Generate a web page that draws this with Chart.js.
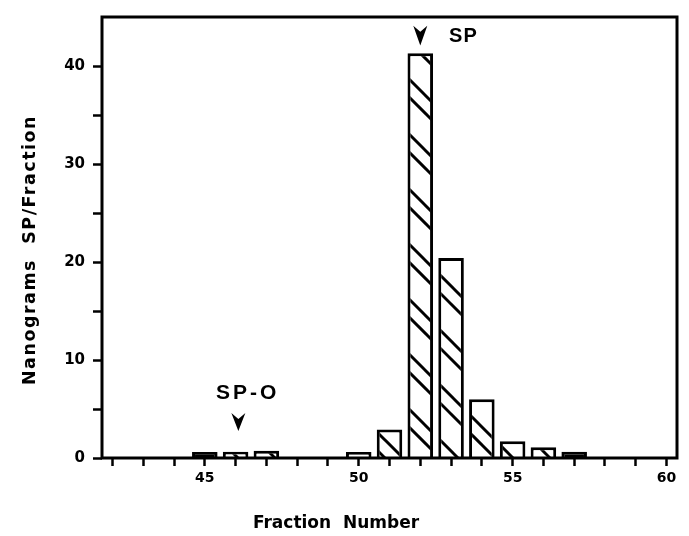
<!DOCTYPE html>
<html>
<head>
<meta charset="utf-8">
<script src="https://cdn.jsdelivr.net/npm/chart.js@4/dist/chart.umd.min.js"></script>
<style>
  html, body { margin: 0; padding: 0; background: #fff; }
  #wrap { width: 689px; height: 536px; position: relative; }
</style>
</head>
<body>
<div id="wrap"><canvas id="c" width="689" height="536"></canvas></div>
<script>
// ---- data ----
const fractions = [45, 46, 47, 50, 51, 52, 53, 54, 55, 56, 57];
const nanograms = [0.6, 0.65, 0.75, 0.6, 2.9, 41.3, 20.4, 6.0, 1.7, 1.1, 0.65];
const solidFractions = [45, 57];
const xLabelValues = [45, 50, 55, 60];
const yLabelValues = [0, 10, 20, 30, 40];
const xTitle = 'Fraction  Number';
const yTitle = 'Nanograms  SP/Fraction';
const annotations = [
  { label: 'SP',   textX: 53.4,  textY: 43.0, arrowX: 52,    arrowTop: 44.1, arrowTip: 42.1 },
  { label: 'SP-O', textX: 46.39, textY: 6.6,  arrowX: 46.09, arrowTop: 4.58, arrowTip: 2.76 }
];

// ---- hatch pattern ----
function makeHatch() {
  const s = 55;
  const t = document.createElement('canvas');
  t.width = s; t.height = s;
  const g = t.getContext('2d');
  g.fillStyle = '#fff';
  g.fillRect(0, 0, s, s);
  g.strokeStyle = '#000';
  g.lineWidth = 3;
  for (const c of [0, 18]) {
    for (const k of [-s, 0, s]) {
      g.beginPath();
      g.moveTo(-2, c + k - 2);
      g.lineTo(s + 2, s + c + k + 2);
      g.stroke();
    }
  }
  return g.createPattern(t, 'repeat');
}
const cvs = document.getElementById('c');
const hatch = makeHatch();

const FONT = "'DejaVu Sans', sans-serif";
const FONT2 = "'Liberation Sans', Arial, sans-serif";

const decor = {
  id: 'decor',
  afterDatasetsDraw(chart) {
    const { ctx, chartArea: a } = chart;
    ctx.save();
    ctx.strokeStyle = '#000';
    ctx.lineWidth = 3;
    ctx.strokeRect(a.left, a.top, a.right - a.left, a.bottom - a.top);
    ctx.restore();
  },
  afterDraw(chart) {
    const { ctx } = chart;
    const xs = chart.scales.x, ys = chart.scales.y;
    ctx.save();
    ctx.fillStyle = '#000';
    ctx.textAlign = 'center';
    ctx.textBaseline = 'middle';
    // axis titles
    ctx.font = 'bold 17px ' + FONT;
    try { ctx.letterSpacing = '0px'; } catch (e) {}
    ctx.fillText(xTitle, 336, 524);
    ctx.save();
    ctx.translate(30, 250);
    ctx.rotate(-Math.PI / 2);
    try { ctx.letterSpacing = '1.5px'; } catch (e) {}
    ctx.font = 'bold 17.5px ' + FONT;
    ctx.fillText(yTitle, 0, 0);
    ctx.restore();
    // annotations
    annotations.forEach((an, i) => {
      if (i === 0) {
        ctx.font = 'bold 20px ' + FONT2;
        try { ctx.letterSpacing = '1px'; } catch (e) {}
      } else {
        ctx.font = 'bold 21px ' + FONT2;
        try { ctx.letterSpacing = '3px'; } catch (e) {}
      }
      ctx.fillText(an.label, xs.getPixelForValue(an.textX), ys.getPixelForValue(an.textY));
      const ax = xs.getPixelForValue(an.arrowX);
      const top = ys.getPixelForValue(an.arrowTop);
      const tip = ys.getPixelForValue(an.arrowTip);
      const hw = 7, notch = 6;
      ctx.beginPath();
      ctx.moveTo(ax - hw, top);
      ctx.lineTo(ax, top + notch);
      ctx.lineTo(ax + hw, top);
      ctx.lineTo(ax, tip);
      ctx.closePath();
      ctx.fill();
    });
    ctx.restore();
  }
};

new Chart(cvs, {
  type: 'bar',
  data: {
    datasets: [{
      data: fractions.map((f, i) => ({ x: f, y: nanograms[i] })),
      backgroundColor: (c) => (c.raw && solidFractions.includes(c.raw.x)) ? '#000' : hatch,
      borderColor: '#000',
      borderWidth: 3,
      borderSkipped: 'start',
      categoryPercentage: 1,
      barPercentage: 0.83
    }]
  },
  options: {
    responsive: false,
    animation: false,
    events: [],
    layout: { padding: { top: 13, right: 12, left: 0, bottom: 0 } },
    plugins: { legend: { display: false }, tooltip: { enabled: false } },
    scales: {
      x: {
        type: 'linear',
        min: 41.66,
        max: 60.34,
        offset: false,
        border: { display: false },
        grid: {
          offset: false,
          drawOnChartArea: false,
          drawTicks: true,
          tickLength: 8,
          tickWidth: 2.5,
          tickColor: '#000',
          color: '#000'
        },
        ticks: {
          stepSize: 1,
          includeBounds: false,
          autoSkip: false,
          maxRotation: 0,
          padding: 4,
          color: '#000',
          font: { family: FONT, weight: 'bold', size: 14 },
          callback: (v) => xLabelValues.includes(v) ? String(v) : ''
        },
        afterFit: (s) => { s.height = 78; }
      },
      y: {
        min: 0,
        max: 45,
        border: { display: false },
        grid: {
          drawOnChartArea: false,
          drawTicks: true,
          tickLength: 9,
          tickWidth: 2.5,
          tickColor: (c) => (c.tick && c.tick.value === 45) ? 'rgba(0,0,0,0)' : '#000',
          color: '#000'
        },
        ticks: {
          stepSize: 5,
          padding: 8,
          color: '#000',
          font: { family: FONT, weight: 'bold', size: 15 },
          callback: (v) => yLabelValues.includes(v) ? String(v) : ''
        },
        afterFit: (s) => { s.width = 102; }
      }
    }
  },
  plugins: [decor]
});
</script>
</body>
</html>
